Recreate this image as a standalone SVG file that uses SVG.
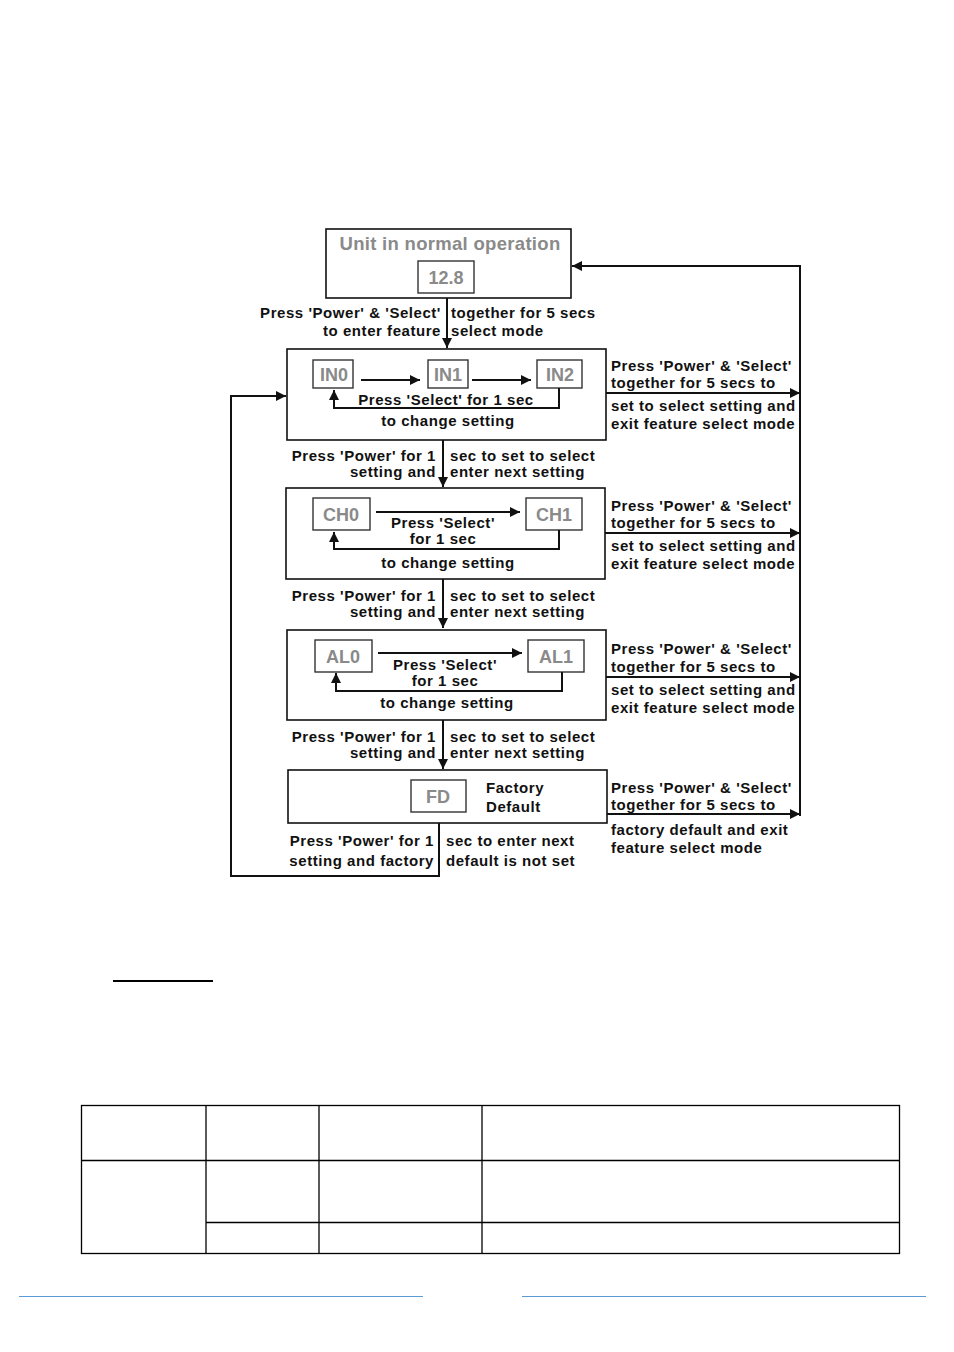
<svg xmlns="http://www.w3.org/2000/svg" width="954" height="1352" viewBox="0 0 954 1352">
<style>
.box{fill:#fff;stroke:#111;stroke-width:1.6}
.ibox{fill:#fff;stroke:#333;stroke-width:1.4}
.gt{font-family:"Liberation Sans",Arial,sans-serif;font-weight:bold;fill:#8a8a8a;font-size:18px;text-anchor:middle}
.t{font-family:"Liberation Sans",Arial,sans-serif;font-weight:bold;fill:#111;font-size:15px;letter-spacing:0.55px}
.e{text-anchor:end}
.m{text-anchor:middle}
.ln{fill:none;stroke:#111;stroke-width:2}
.tb{fill:none;stroke:#000;stroke-width:1.3}
</style>
<defs>
<marker id="ah" viewBox="0 0 10 10" refX="10" refY="5" markerWidth="10" markerHeight="10" markerUnits="userSpaceOnUse" orient="auto"><path d="M0,0 L10,5 L0,10 z" fill="#111"/></marker>
</defs>
<rect width="954" height="1352" fill="#fff"/>

<g id="n-normal">
<rect class="box" x="326" y="229" width="245" height="69"/>
<text class="gt" x="450" y="250" style="font-size:18.5px;letter-spacing:0.3px">Unit in normal operation</text>
<rect class="ibox" x="418" y="261" width="56" height="32"/>
<text class="gt" x="446" y="284">12.8</text>
</g>

<g id="n-input">
<rect class="box" x="287" y="349" width="319" height="91"/>
<rect class="ibox" x="313" y="360" width="40" height="28"/>
<text class="gt" x="334" y="381">IN0</text>
<rect class="ibox" x="428" y="360" width="40" height="28"/>
<text class="gt" x="448" y="381">IN1</text>
<rect class="ibox" x="537" y="360" width="45" height="28"/>
<text class="gt" x="560" y="381">IN2</text>
<text class="t m" x="446" y="405">Press 'Select' for 1 sec</text>
<text class="t m" x="448" y="426">to change setting</text>
</g>

<g id="n-channel">
<rect class="box" x="286" y="488" width="319" height="91"/>
<rect class="ibox" x="313" y="498" width="57" height="32"/>
<text class="gt" x="341" y="521">CH0</text>
<rect class="ibox" x="526" y="498" width="56" height="32"/>
<text class="gt" x="554" y="521">CH1</text>
<text class="t m" x="443" y="528">Press 'Select'</text>
<text class="t m" x="443" y="544">for 1 sec</text>
<text class="t m" x="448" y="568">to change setting</text>
</g>

<g id="n-alarm">
<rect class="box" x="287" y="630" width="319" height="90"/>
<rect class="ibox" x="315" y="640" width="57" height="32"/>
<text class="gt" x="343" y="663">AL0</text>
<rect class="ibox" x="528" y="640" width="56" height="32"/>
<text class="gt" x="556" y="663">AL1</text>
<text class="t m" x="445" y="670">Press 'Select'</text>
<text class="t m" x="445" y="686">for 1 sec</text>
<text class="t m" x="447" y="708">to change setting</text>
</g>

<g id="n-factory">
<rect class="box" x="288" y="770" width="319" height="53"/>
<rect class="ibox" x="411" y="780" width="55" height="32"/>
<text class="gt" x="438" y="803">FD</text>
<text class="t" x="486" y="793">Factory</text>
<text class="t" x="486" y="812">Default</text>
</g>

<g id="connectors">
<line class="ln" x1="447" y1="298" x2="447" y2="348" marker-end="url(#ah)"/>
<line class="ln" x1="361" y1="380" x2="420" y2="380" marker-end="url(#ah)"/>
<line class="ln" x1="472" y1="380" x2="531" y2="380" marker-end="url(#ah)"/>
<polyline class="ln" points="559,388 559,408 334,408 334,390" marker-end="url(#ah)"/>
<line class="ln" x1="443" y1="440" x2="443" y2="487" marker-end="url(#ah)"/>
<line class="ln" x1="376" y1="512" x2="520" y2="512" marker-end="url(#ah)"/>
<polyline class="ln" points="559,530 559,549 334,549 334,532" marker-end="url(#ah)"/>
<line class="ln" x1="443" y1="579" x2="443" y2="628" marker-end="url(#ah)"/>
<line class="ln" x1="378" y1="653" x2="522" y2="653" marker-end="url(#ah)"/>
<polyline class="ln" points="562,672 562,691 336,691 336,673" marker-end="url(#ah)"/>
<line class="ln" x1="443" y1="720" x2="443" y2="769" marker-end="url(#ah)"/>
<line class="ln" x1="606" y1="393" x2="800" y2="393" marker-end="url(#ah)"/>
<line class="ln" x1="605" y1="533" x2="800" y2="533" marker-end="url(#ah)"/>
<line class="ln" x1="606" y1="677" x2="800" y2="677" marker-end="url(#ah)"/>
<line class="ln" x1="607" y1="814" x2="800" y2="814" marker-end="url(#ah)"/>
<polyline class="ln" points="800,816 800,266 572,266" marker-end="url(#ah)"/>
<polyline class="ln" points="439,823 439,876 231,876 231,396 286,396" marker-end="url(#ah)"/>
</g>

<g id="labels">
<text class="t e" x="441" y="318">Press 'Power' &amp; 'Select'</text>
<text class="t" x="451" y="318">together for 5 secs</text>
<text class="t e" x="441" y="336">to enter feature</text>
<text class="t" x="451" y="336">select mode</text>

<text class="t" x="611" y="371">Press 'Power' &amp; 'Select'</text>
<text class="t" x="611" y="388">together for 5 secs to</text>
<text class="t" x="611" y="411">set to select setting and</text>
<text class="t" x="611" y="429">exit feature select mode</text>

<text class="t e" x="436" y="461">Press 'Power' for 1</text>
<text class="t" x="450" y="461">sec to set to select</text>
<text class="t e" x="436" y="477">setting and</text>
<text class="t" x="450" y="477">enter next setting</text>

<text class="t" x="611" y="511">Press 'Power' &amp; 'Select'</text>
<text class="t" x="611" y="528">together for 5 secs to</text>
<text class="t" x="611" y="551">set to select setting and</text>
<text class="t" x="611" y="569">exit feature select mode</text>

<text class="t e" x="436" y="601">Press 'Power' for 1</text>
<text class="t" x="450" y="601">sec to set to select</text>
<text class="t e" x="436" y="617">setting and</text>
<text class="t" x="450" y="617">enter next setting</text>

<text class="t" x="611" y="654">Press 'Power' &amp; 'Select'</text>
<text class="t" x="611" y="672">together for 5 secs to</text>
<text class="t" x="611" y="695">set to select setting and</text>
<text class="t" x="611" y="713">exit feature select mode</text>

<text class="t e" x="436" y="742">Press 'Power' for 1</text>
<text class="t" x="450" y="742">sec to set to select</text>
<text class="t e" x="436" y="758">setting and</text>
<text class="t" x="450" y="758">enter next setting</text>

<text class="t" x="611" y="793">Press 'Power' &amp; 'Select'</text>
<text class="t" x="611" y="810">together for 5 secs to</text>
<text class="t" x="611" y="835">factory default and exit</text>
<text class="t" x="611" y="853">feature select mode</text>

<text class="t e" x="434" y="846">Press 'Power' for 1</text>
<text class="t" x="446" y="846">sec to enter next</text>
<text class="t e" x="434" y="866">setting and factory</text>
<text class="t" x="446" y="866">default is not set</text>
</g>

<g id="page">
<line x1="113" y1="981" x2="213" y2="981" stroke="#000" stroke-width="2"/>
<rect class="tb" x="81.5" y="1105.5" width="818" height="148"/>
<line class="tb" x1="206" y1="1105" x2="206" y2="1253"/>
<line class="tb" x1="319" y1="1105" x2="319" y2="1253"/>
<line class="tb" x1="482" y1="1105" x2="482" y2="1253"/>
<line class="tb" x1="81" y1="1160.5" x2="899" y2="1160.5"/>
<line class="tb" x1="206" y1="1222.5" x2="899" y2="1222.5"/>
<line x1="19" y1="1296.5" x2="423" y2="1296.5" stroke="#5b9bd5" stroke-width="1"/>
<line x1="522" y1="1296.5" x2="926" y2="1296.5" stroke="#5b9bd5" stroke-width="1"/>
</g>
</svg>
